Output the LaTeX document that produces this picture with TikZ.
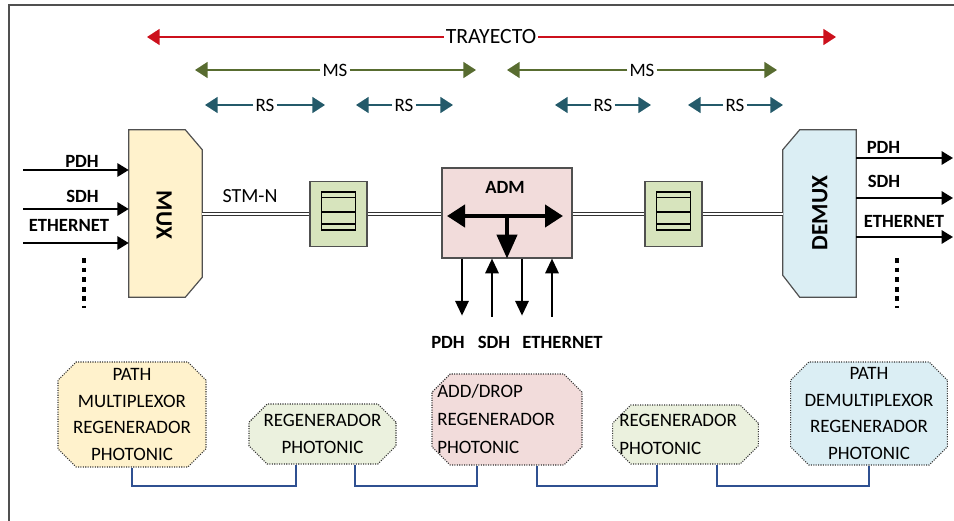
\documentclass[tikz,border=0pt]{standalone}
\usepackage{fontspec}
\setmainfont{Carlito}
\usetikzlibrary{arrows.meta,calc,shapes.misc}
\definecolor{trred}{RGB}{204,16,28}
\definecolor{msgreen}{RGB}{88,108,48}
\definecolor{rsteal}{RGB}{36,90,106}
\definecolor{muxfill}{HTML}{FFF2CC}
\definecolor{regfill}{HTML}{D7E4BD}
\definecolor{admfill}{HTML}{F2DCDB}
\definecolor{demuxfill}{HTML}{DBEEF4}
\definecolor{lgreen}{HTML}{EBF1DE}
\definecolor{connblue}{RGB}{47,80,145}
\definecolor{edgegray}{HTML}{505050}
\def\u{0.75pt}
\newcommand\reginner[1]{%
  \draw[line width=0.8pt] ($(#1)+(-17,-22)$) rectangle ($(#1)+(17,16)$);
  \draw[line width=1.4pt] ($(#1)+(-17,-16.5)$) -- ($(#1)+(17,-16.5)$);
  \draw[line width=1.4pt] ($(#1)+(-17,-2)$) -- ($(#1)+(17,-2)$);
  \draw[line width=1.4pt] ($(#1)+(-17,10)$) -- ($(#1)+(17,10)$);}
\begin{document}
\begin{tikzpicture}[x=0.75pt,y=-0.75pt,
  toplbl/.style={font=\fontsize{14.2}{19}\selectfont, inner sep=1.5pt},
  blbl/.style={font=\fontsize{14}{19}\selectfont\bfseries, inner sep=1pt},
  bigbold/.style={font=\fontsize{17.5}{20}\selectfont\bfseries, inner sep=0pt},
  toparrow/.style={line width=1.3pt, -{Triangle[length=9.5pt,width=12pt]}},
  inarr/.style={line width=1.4pt, -{Triangle[length=8.5pt,width=10pt]}},
  smallarr/.style={line width=1.4pt, -{Triangle[length=11pt,width=10pt]}},
  fiber/.style={draw=black!80, line width=1.1pt, double=white, double distance=1.5pt},
  dotcol/.style={line width=2.6pt, dash pattern=on 3.6pt off 3.6pt},
  boxline/.style={draw=edgegray, line width=0.9pt},
  octo/.style={chamfered rectangle, chamfered rectangle angle=45,
    chamfered rectangle xsep=10.5pt, draw=black!80, densely dotted, line width=0.8pt,
    inner sep=0pt, font=\fontsize{14.2}{20}\selectfont},
  boxtxt/.style={font=\fontsize{14.2}{21}\selectfont, inner sep=0pt, align=left, anchor=west},
  conn/.style={draw=connblue, line width=1.5pt}]
\useasboundingbox (0,0) rectangle (954,521);
% frame
\draw[edgegray, line width=1.1pt] (9,521) -- (9,5) -- (954,5);

% ---- top spans
\node[toplbl, font=\fontsize{16.3}{19}\selectfont] (tr) at (491,37) {TRAYECTO};
\coordinate (trL) at (147,37); \coordinate (trR) at (836,37);
\draw[toparrow, trred] (tr.west) -- (trL);
\draw[toparrow, trred] (tr.east) -- (trR);

\node[toplbl] (ms1) at (335,70) {MS};
\coordinate (ms1L) at (195,70); \coordinate (ms1R) at (476,70);
\draw[toparrow, msgreen] (ms1.west) -- (ms1L);
\draw[toparrow, msgreen] (ms1.east) -- (ms1R);
\node[toplbl] (ms2) at (642,70) {MS};
\coordinate (ms2L) at (507,70); \coordinate (ms2R) at (777,70);
\draw[toparrow, msgreen] (ms2.west) -- (ms2L);
\draw[toparrow, msgreen] (ms2.east) -- (ms2R);

\node[toplbl] (rs1) at (265,105) {RS};
\coordinate (rs1L) at (205,105); \coordinate (rs1R) at (325,105);
\draw[toparrow, rsteal] (rs1.west) -- (rs1L);
\draw[toparrow, rsteal] (rs1.east) -- (rs1R);
\node[toplbl] (rs2) at (404,105) {RS};
\coordinate (rs2L) at (356,105); \coordinate (rs2R) at (453,105);
\draw[toparrow, rsteal] (rs2.west) -- (rs2L);
\draw[toparrow, rsteal] (rs2.east) -- (rs2R);
\node[toplbl] (rs3) at (603,105) {RS};
\coordinate (rs3L) at (555,105); \coordinate (rs3R) at (651,105);
\draw[toparrow, rsteal] (rs3.west) -- (rs3L);
\draw[toparrow, rsteal] (rs3.east) -- (rs3R);
\node[toplbl] (rs4) at (735,105) {RS};
\coordinate (rs4L) at (688,105); \coordinate (rs4R) at (783,105);
\draw[toparrow, rsteal] (rs4.west) -- (rs4L);
\draw[toparrow, rsteal] (rs4.east) -- (rs4R);

% ---- MUX
\node[minimum width=73*\u, minimum height=167*\u, inner sep=0pt] (mux) at (165.5,213.5) {};
\draw[boxline, fill=muxfill] (mux.north west) -- ($(mux.north east)+(-17,0)$) -- ($(mux.north east)+(0,20)$)
  -- ($(mux.south east)+(0,-20)$) -- ($(mux.south east)+(-17,0)$) -- (mux.south west) -- cycle;
\node[bigbold, rotate=-90] (muxt) at (164,215) {MUX};

\coordinate (i1) at (23,170); \coordinate (i2) at (23,209); \coordinate (i3) at (23,243);
\draw[inarr] (i1) -- (i1 -| mux.west);
\draw[inarr] (i2) -- (i2 -| mux.west);
\draw[inarr] (i3) -- (i3 -| mux.west);
\node[blbl] (lp1) at (82,161) {PDH};
\node[blbl] (ls1) at (82.5,196) {SDH};
\node[blbl] (le1) at (69,225) {ETHERNET};
\draw[dotcol] (84,258) -- (84,308);

\node[font=\fontsize{15}{18}\selectfont, inner sep=0pt] (stm) at (250,196) {STM-N};

% ---- regenerators
\node[boxline, fill=regfill, minimum width=57*\u, minimum height=65*\u, inner sep=0pt] (r1) at (338.5,214) {};
\reginner{r1}
\node[boxline, fill=regfill, minimum width=57*\u, minimum height=65*\u, inner sep=0pt] (r2) at (673.5,214) {};
\reginner{r2}

% ---- ADM
\node[boxline, fill=admfill, minimum width=130*\u, minimum height=90*\u, inner sep=0pt] (adm) at (507,213) {};
\node[blbl] (admt) at (505,187) {ADM};
\draw[line width=3.2pt, {Triangle[length=13.5pt,width=16.5pt]}-{Triangle[length=13.5pt,width=16.5pt]}]
  ($(adm.center)+(-60,3)$) -- ($(adm.center)+(56,3)$);
\draw[line width=3.2pt, -{Triangle[length=18pt,width=15pt]}] ($(adm.center)+(0,3)$) -- (adm.south);

\draw[smallarr] ($(adm.south)+(-45,0)$) -- ($(adm.south)+(-45,57)$);
\draw[smallarr] ($(adm.south)+(-15,58)$) -- ($(adm.south)+(-15,0)$);
\draw[smallarr] ($(adm.south)+(15,0)$) -- ($(adm.south)+(15,57)$);
\draw[smallarr] ($(adm.south)+(45,58)$) -- ($(adm.south)+(45,0)$);
\node[blbl] (lp2) at (448,342) {PDH};
\node[blbl] (ls2) at (494,342) {SDH};
\node[blbl] (le2) at (562.5,342) {ETHERNET};

% ---- DEMUX
\node[minimum width=73*\u, minimum height=167*\u, inner sep=0pt] (demux) at (819.5,213.5) {};
\draw[boxline, fill=demuxfill] (demux.north east) -- (demux.south east) -- ($(demux.south west)+(17,0)$)
  -- ($(demux.south west)+(0,-22)$) -- ($(demux.north west)+(0,20)$) -- ($(demux.north west)+(17,0)$) -- cycle;
\node[bigbold, rotate=90] (demuxt) at (820,213) {DEMUX};

\coordinate (o1) at (953,158); \coordinate (o2) at (953,198); \coordinate (o3) at (953,237);
\draw[inarr] (o1 -| demux.east) -- (o1);
\draw[inarr] (o2 -| demux.east) -- (o2);
\draw[inarr] (o3 -| demux.east) -- (o3);
\node[blbl] (lp3) at (883.5,147.5) {PDH};
\node[blbl] (ls3) at (884,181) {SDH};
\node[blbl] (le3) at (904,221) {ETHERNET};
\draw[dotcol] (897,258) -- (897,308);

% ---- fiber links
\draw[fiber] (r1.west -| mux.east) -- (r1.west);
\draw[fiber] (r1.east) -- (r1.east -| adm.west);
\draw[fiber] (adm.east |- r2.west) -- (r2.west);
\draw[fiber] (r2.east) -- (r2.east -| demux.west);

% ---- bottom boxes
\node[octo, fill=muxfill, minimum width=148*\u, minimum height=105*\u, align=center] (b1) at (132,414.5)
  {PATH\\MULTIPLEXOR\\REGENERADOR\\PHOTONIC};
\node[octo, fill=lgreen, minimum width=147*\u, minimum height=60*\u, align=center] (b2) at (322.5,434)
  {REGENERADOR\\PHOTONIC};
\node[octo, fill=admfill, minimum width=150*\u, minimum height=91*\u, align=center] (b3) at (507,419.5)
  {\phantom{ADD/DROP}\\\phantom{REGENERADOR}\\\phantom{PHOTONIC}};
\node[boxtxt] (b3t) at (437,419) {ADD/DROP\\REGENERADOR\\PHOTONIC};
\node[octo, fill=lgreen, minimum width=145*\u, minimum height=59*\u, align=center] (b4) at (685.5,434.5)
  {\phantom{REGENERADOR}\\\phantom{PHOTONIC}};
\node[boxtxt] (b4t) at (619,434) {REGENERADOR\\PHOTONIC};
\node[octo, fill=demuxfill, minimum width=152*\u, minimum height=103*\u, align=center] (b5) at (869,413.5)
  {PATH\\DEMULTIPLEXOR\\REGENERADOR\\PHOTONIC};

\draw[conn] (b1.south) -- ++(0,18) -| ($(b2.south)+(-26.5,0)$);
\draw[conn] ($(b2.south)+(32.5,0)$) -- ++(0,21) -| ($(b3.south)+(-30,0)$);
\draw[conn] ($(b3.south)+(30,0)$) -- ++(0,20) -| ($(b4.south)+(-28.5,0)$);
\draw[conn] ($(b4.south)+(31.5,0)$) -- ++(0,21) -| (b5.south);
\end{tikzpicture}
\end{document}
